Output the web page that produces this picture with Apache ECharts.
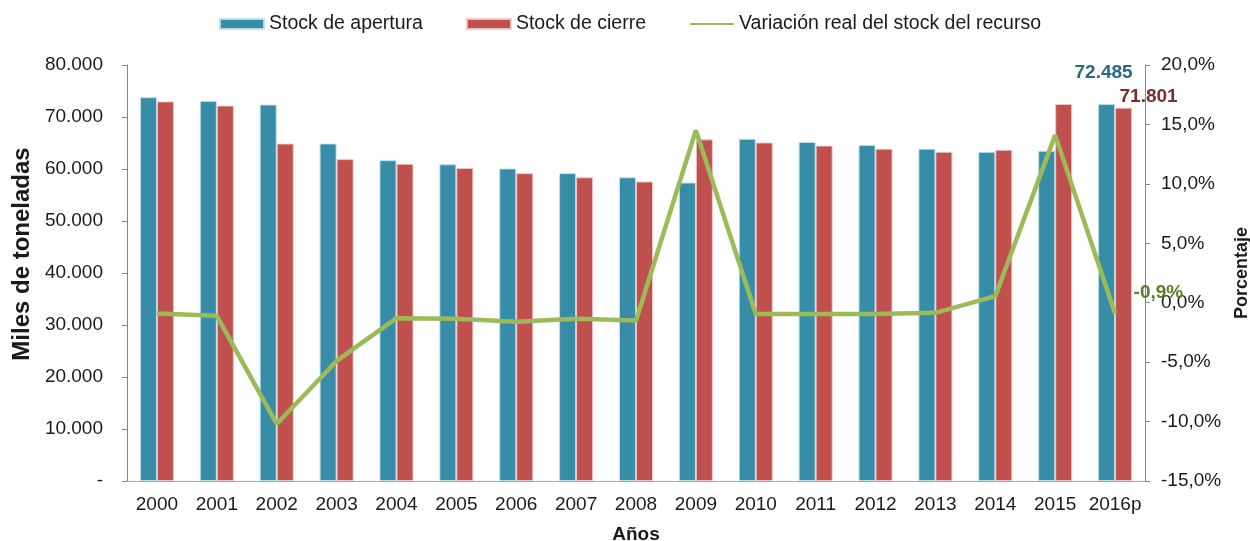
<!DOCTYPE html>
<html>
<head>
<meta charset="utf-8">
<script src="https://cdn.jsdelivr.net/npm/echarts@6/dist/echarts.min.js"></script>
<style>
html,body{margin:0;padding:0;background:#fff;width:100%;height:100%;overflow:hidden;}
#chart{position:absolute;left:0;top:0;width:100%;height:100%;}
</style>
</head>
<body>
<div id="chart"></div>
<script>
// datos
var years = ['2000','2001','2002','2003','2004','2005','2006','2007','2008','2009','2010','2011','2012','2013','2014','2015','2016p'];
var stockApertura = [73800,73100,72400,64900,61700,60900,60100,59200,58400,57400,65800,65200,64600,63900,63300,63500,72485];
var stockCierre = [73000,72200,64900,61900,61000,60200,59200,58400,57600,65700,65100,64500,63900,63300,63700,72500,71801];
var variacion = [-0.9,-1.1,-10.2,-4.9,-1.3,-1.35,-1.6,-1.35,-1.5,14.5,-0.95,-0.95,-0.95,-0.85,0.55,14.1,-0.9];

var font = 'Liberation Sans, Arial, sans-serif';
var last = years.length - 1;

function miles(v){
  if (v === 0) return '-';
  return String(Math.round(v)).replace(/\B(?=(\d{3})+(?!\d))/g, '.');
}
function pct(v){
  return v.toFixed(1).replace('.', ',') + '%';
}

var aperturaData = stockApertura.map(function(v, i){
  if (i !== last) return v;
  return {value: v, label: {show: true, position: 'top', offset: [-3, -17],
    formatter: function(p){ return miles(p.value); },
    color: '#2B6A80', fontWeight: 'bold', fontSize: 19, fontFamily: font}};
});
var cierreData = stockCierre.map(function(v, i){
  if (i !== last) return v;
  return {value: v, label: {show: true, position: 'top', offset: [25, 4],
    formatter: function(p){ return miles(p.value); },
    color: '#7A2F2E', fontWeight: 'bold', fontSize: 19, fontFamily: font}};
});
var variacionData = variacion.map(function(v, i){
  if (i !== last) return v;
  return {value: v, label: {show: true, position: 'right', offset: [13, -21],
    formatter: function(p){ return pct(p.value); },
    color: '#5D7B2E', fontWeight: 'bold', fontSize: 19, fontFamily: font}};
});

var myChart = echarts.init(document.getElementById('chart'));
var option = {
  animation: false,
  textStyle: {fontFamily: font},
  legend: {
    top: 9,
    left: 214,
    itemWidth: 44,
    itemHeight: 10,
    itemGap: 43,
    textStyle: {fontSize: 19.5, color: '#1a1a1a', fontFamily: font},
    data: [
      {name: 'Stock de apertura', icon: 'rect'},
      {name: 'Stock de cierre', icon: 'rect'},
      {name: 'Variación real del stock del recurso', itemStyle: {opacity: 0}}
    ]
  },
  grid: {left: 127, right: 105, top: 65, bottom: 60, containLabel: false, outerBoundsMode: 'none'},
  xAxis: {
    type: 'category',
    data: years,
    name: 'Años',
    nameLocation: 'middle',
    nameGap: 44,
    nameTextStyle: {fontSize: 19, fontWeight: 'bold', color: '#1a1a1a'},
    axisLine: {lineStyle: {color: '#A6A6A6', width: 1}},
    axisTick: {show: false},
    axisLabel: {fontSize: 19, color: '#1a1a1a', margin: 14, interval: 0}
  },
  yAxis: [
    {
      type: 'value',
      min: 0, max: 80000, interval: 10000,
      name: 'Miles de toneladas',
      nameLocation: 'middle',
      nameRotate: 90,
      nameGap: 93,
      nameTextStyle: {fontSize: 24, fontWeight: 'bold', color: '#1a1a1a', padding: [0, 0, 0, 38]},
      axisLine: {show: true, lineStyle: {color: '#868686'}},
      axisTick: {show: true, length: 5, lineStyle: {color: '#868686'}},
      splitLine: {show: false},
      axisLabel: {fontSize: 19, color: '#1a1a1a', margin: 24, formatter: miles}
    },
    {
      type: 'value',
      min: -15, max: 20, interval: 5,
      name: 'Porcentaje',
      nameLocation: 'middle',
      nameRotate: 90,
      nameGap: 88,
      nameTextStyle: {fontSize: 18, fontWeight: 'bold', color: '#1a1a1a'},
      axisLine: {show: true, lineStyle: {color: '#868686'}},
      axisTick: {show: true, length: 5, lineStyle: {color: '#868686'}},
      splitLine: {show: false},
      axisLabel: {fontSize: 19, color: '#1a1a1a', margin: 16, formatter: pct}
    }
  ],
  series: [
    {
      name: 'Stock de apertura',
      type: 'bar',
      yAxisIndex: 0,
      barWidth: 17,
      barGap: '0%',
      itemStyle: {color: '#378CA8', borderColor: 'rgba(190,225,235,0.9)', borderWidth: 1},
      data: aperturaData
    },
    {
      name: 'Stock de cierre',
      type: 'bar',
      yAxisIndex: 0,
      barWidth: 17,
      barGap: '0%',
      itemStyle: {color: '#C0504D', borderColor: 'rgba(240,200,200,0.9)', borderWidth: 1},
      data: cierreData
    },
    {
      name: 'Variación real del stock del recurso',
      type: 'line',
      yAxisIndex: 1,
      symbol: 'circle',
      symbolSize: 1,
      showSymbol: true,
      lineStyle: {color: '#9BBB59', width: 4.5},
      itemStyle: {color: '#9BBB59'},
      z: 5,
      data: variacionData
    }
  ]
};
myChart.setOption(option);
</script>
</body>
</html>
